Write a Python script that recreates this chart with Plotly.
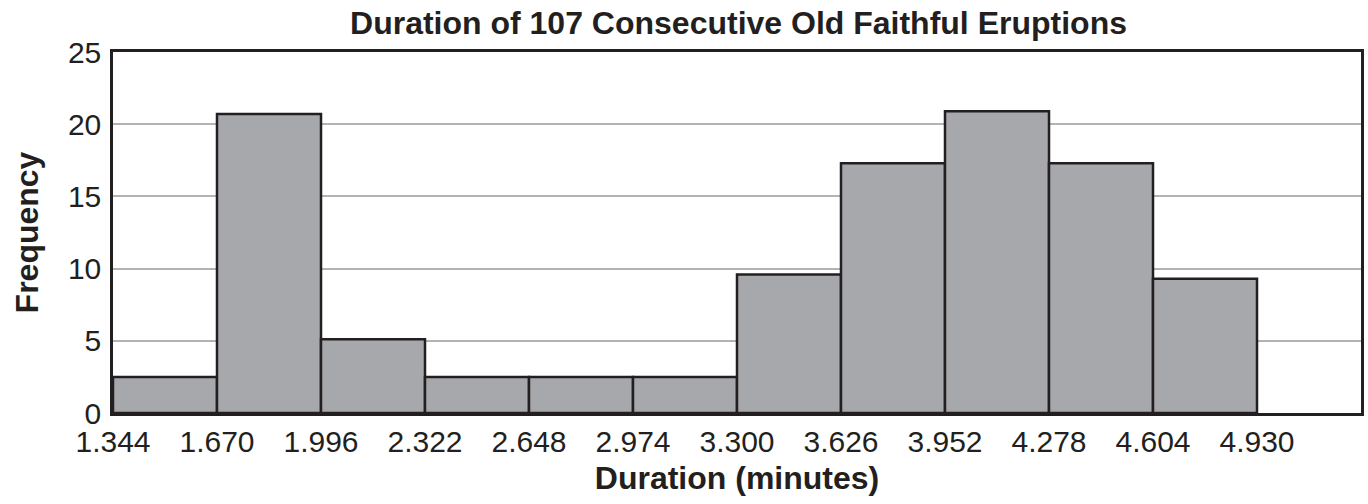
import plotly.graph_objects as go

# Histogram of eruption durations: bin edges start at 1.344 with width 0.326
bin_start = 1.344
bin_width = 0.326
frequencies = [2.5, 20.7, 5.1, 2.5, 2.5, 2.5, 9.6, 17.3, 20.9, 17.3, 9.3]
tick_labels = ["1.344", "1.670", "1.996", "2.322", "2.648", "2.974",
               "3.300", "3.626", "3.952", "4.278", "4.604", "4.930"]
y_ticks = [0, 5, 10, 15, 20, 25]

left_edges = [bin_start + i * bin_width for i in range(len(frequencies))]
tick_positions = [bin_start + i * bin_width for i in range(len(tick_labels))]

FONT = "Liberation Sans, Arial, sans-serif"
DARK = "#231f20"

fig = go.Figure(
    go.Bar(
        x=left_edges,
        y=frequencies,
        width=bin_width,
        offset=0,
        marker=dict(color="#a7a8ab", line=dict(color=DARK, width=2.5)),
        hoverinfo="y",
    )
)

fig.update_layout(
    width=1368,
    height=504,
    margin=dict(l=113, r=4, t=52, b=91),
    paper_bgcolor="white",
    plot_bgcolor="white",
    showlegend=False,
    font=dict(family=FONT, color=DARK, size=30),
    title=dict(
        text="<b>Duration of 107 Consecutive Old Faithful Eruptions</b>",
        x=(113 + 1364) / 2 / 1368,
        xanchor="center",
        y=1 - 23 / 504,
        yanchor="middle",
        font=dict(family=FONT, size=32, color=DARK),
    ),
)

fig.update_xaxes(
    range=[bin_start, bin_start + 12 * bin_width],
    tickmode="array",
    tickvals=tick_positions,
    ticktext=tick_labels,
    showgrid=False,
    showline=True,
    linecolor=DARK,
    linewidth=2.5,
    mirror=True,
    ticks="",
    tickfont=dict(family=FONT, size=30, color=DARK),
    title=dict(text="<b>Duration (minutes)</b>", standoff=10,
               font=dict(family=FONT, size=32, color=DARK)),
    zeroline=False,
)

fig.update_yaxes(
    range=[0, 25],
    tickmode="array",
    tickvals=y_ticks,
    showgrid=True,
    gridcolor="#b3b3b3",
    gridwidth=2,
    showline=True,
    linecolor=DARK,
    linewidth=2.5,
    mirror=True,
    ticks="",
    ticklabelstandoff=3,
    tickfont=dict(family=FONT, size=30, color=DARK),
    title=dict(text="<b>Frequency</b>", standoff=20,
               font=dict(family=FONT, size=32, color=DARK)),
    zeroline=False,
)

fig.write_html("out.html")
